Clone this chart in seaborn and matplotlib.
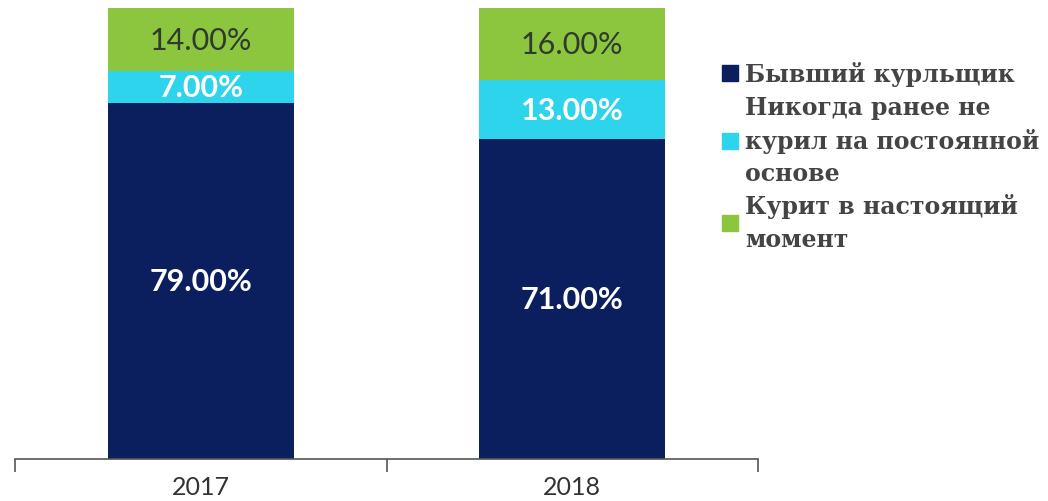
import pandas as pd
import matplotlib.pyplot as plt
import seaborn as sns
from matplotlib.patches import Patch

# data
years = ["2017", "2018"]
former = [79, 71]
never = [7, 13]
current = [14, 16]
legend_labels = ["Бывший курльщик",
                 "Никогда ранее не\nкурил на постоянной\nоснове",
                 "Курит в настоящий\nмомент"]

navy = "#0b1f5e"
cyan = "#2dd4ec"
green = "#8cc63f"

df = pd.DataFrame({"year": years, "former": former, "never": never, "current": current})
df["c2"] = df["former"] + df["never"]
df["c3"] = df["c2"] + df["current"]

sns.set_style("white")
plt.rcParams["font.family"] = ["Lato", "DejaVu Sans"]

fig = plt.figure(figsize=(10.48, 5.02), dpi=100)
ax = fig.add_axes([0.0143, 0.083, 0.709, 0.899])

# stacked bars: draw cumulative totals back to front
for col, c in [("c3", green), ("c2", cyan), ("former", navy)]:
    sns.barplot(data=df, x="year", y=col, color=c, width=0.5, saturation=1,
                linewidth=0, ax=ax)

for i in range(len(years)):
    ax.text(i, former[i] / 2, f"{former[i]:.2f}%", ha="center", va="center",
            color="white", fontsize=22, fontweight="bold")
    ax.text(i, former[i] + never[i] / 2, f"{never[i]:.2f}%", ha="center", va="center",
            color="white", fontsize=22, fontweight="bold")
    ax.text(i, former[i] + never[i] + current[i] / 2, f"{current[i]:.2f}%", ha="center",
            va="center", color="#2e3b2e", fontsize=22)

ax.set_xlim(-0.5, 1.5)
ax.set_ylim(0, 100)
ax.set_xlabel("")
ax.set_ylabel("")
ax.set_yticks([])
ax.set_xticks([-0.5, 0.5, 1.5])
ax.set_xticklabels([])
ax.set_xticks([0, 1], minor=True)
ax.set_xticklabels(years, minor=True, fontsize=18, color="#333333")
ax.tick_params(axis="x", which="major", bottom=True, length=9, width=1.2,
               color="#555555", direction="out")
ax.tick_params(axis="x", which="minor", bottom=True, length=0, pad=11)
for s in ["top", "left", "right"]:
    ax.spines[s].set_visible(False)
ax.spines["bottom"].set_color("#555555")
ax.spines["bottom"].set_linewidth(1.2)

handles = [Patch(color=navy), Patch(color=cyan), Patch(color=green)]
leg = fig.legend(handles, legend_labels, loc="upper left", bbox_to_anchor=(0.689, 0.876),
                 frameon=False, borderpad=0, borderaxespad=0,
                 handlelength=0.68, handleheight=0.68, handletextpad=0.3,
                 labelspacing=0.35, prop={"family": "DejaVu Serif", "size": 17, "weight": "bold"},
                 labelcolor="#444444")
for t in leg.get_texts():
    t.set_linespacing(1.45)

plt.savefig("out.png", dpi=100)
